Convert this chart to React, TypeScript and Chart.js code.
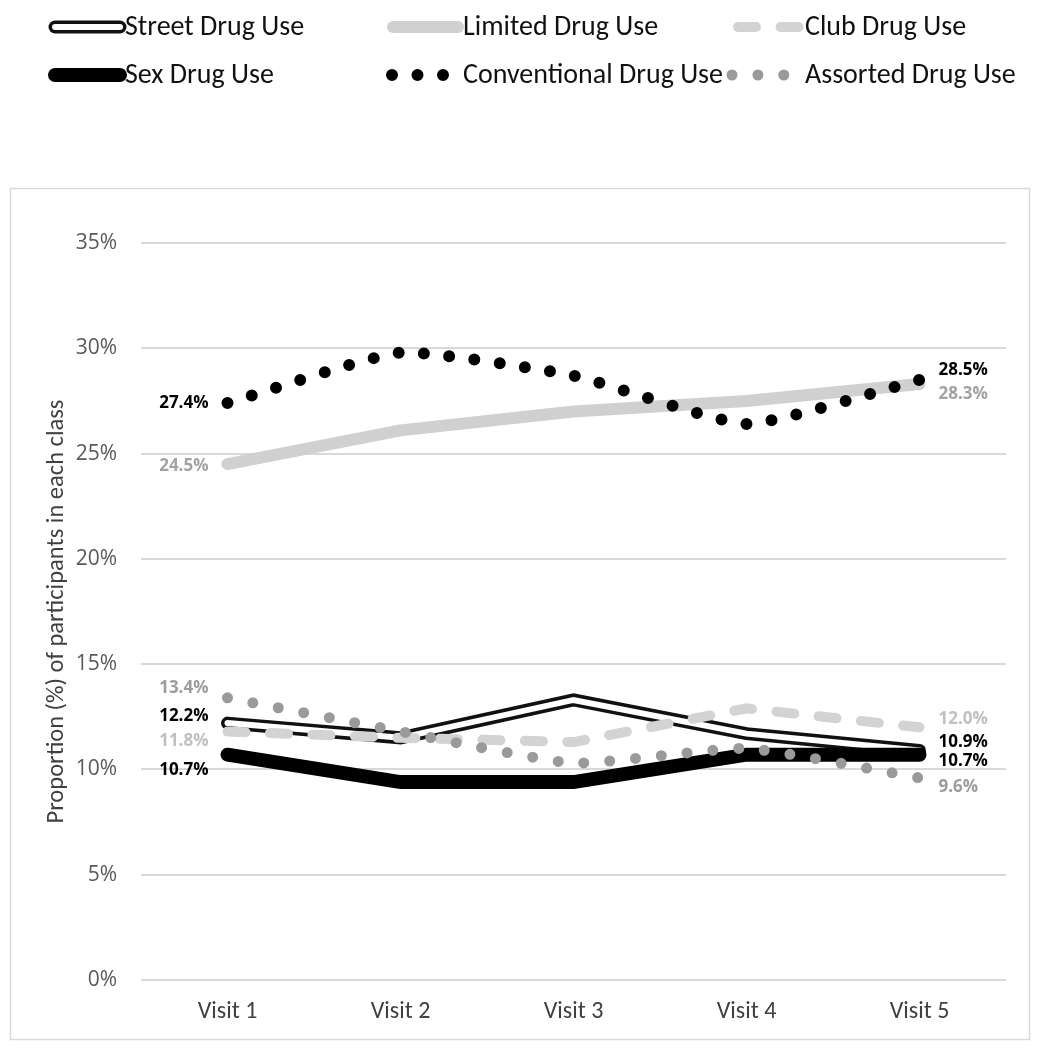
import React, { useEffect, useRef } from 'react';
import { Chart, registerables } from 'chart.js';

Chart.register(...registerables);

// ---------- data ----------
const visits = ['Visit 1', 'Visit 2', 'Visit 3', 'Visit 4', 'Visit 5'];
const streetDrugUse = [12.2, 11.5, 13.3, 11.7, 10.9];
const limitedDrugUse = [24.5, 26.1, 27.0, 27.5, 28.3];
const clubDrugUse = [11.8, 11.5, 11.3, 12.9, 12.0];
const sexDrugUse = [10.7, 9.4, 9.4, 10.7, 10.7];
const conventionalDrugUse = [27.4, 29.8, 28.7, 26.4, 28.5];
const assortedDrugUse = [13.4, 11.8, 10.3, 11.0, 9.6];
const yTickValues = [0, 5, 10, 15, 20, 25, 30, 35];
const yAxisTitle = 'Proportion (%) of participants in each class';

const NARROW = "Carlito, 'Liberation Sans Narrow', 'DejaVu Sans Condensed', 'Roboto Condensed', sans-serif";
const WIDE = "'Open Sans', 'DejaVu Sans', sans-serif";

const fmt = (v: number) => v.toFixed(1) + '%';

// legend grid positions (style only)
const legendColX = [50, 388, 730];
const legendRowY = [27, 75];

function drawSample(ctx: CanvasRenderingContext2D, ds: any, x1: number, x2: number, y: number) {
  ctx.save();
  ctx.strokeStyle = ds.borderColor;
  ctx.lineWidth = ds.borderWidth;
  ctx.lineCap = ds.borderCapStyle || 'butt';
  ctx.setLineDash(ds.borderDash || []);
  ctx.beginPath();
  ctx.moveTo(x1, y);
  ctx.lineTo(x2, y);
  ctx.stroke();
  ctx.restore();
}

const legendPlugin = {
  id: 'customLegend',
  afterDraw(chart: any) {
    const ctx: CanvasRenderingContext2D = chart.ctx;
    const dsets = chart.data.datasets;
    dsets.forEach((ds: any) => {
      if (!ds.legendCell) return;
      const [c, r] = ds.legendCell;
      const x0 = legendColX[c];
      const y = legendRowY[r];
      const [s1, s2] = ds.legendSpan;
      drawSample(ctx, ds, x0 + s1, x0 + s2, y);
      if (ds.innerId) {
        const inner = dsets.find((d: any) => d.id === ds.innerId);
        if (inner) drawSample(ctx, inner, x0 + s1, x0 + s2, y);
      }
      ctx.save();
      ctx.font = `28px ${NARROW}`;
      ctx.fillStyle = '#111111';
      ctx.textAlign = 'left';
      ctx.textBaseline = 'middle';
      ctx.fillText(ds.label, x0 + 75, y + 1);
      ctx.restore();
    });
  },
};

const boxPlugin = {
  id: 'outerBox',
  beforeDraw(chart: any) {
    const ctx: CanvasRenderingContext2D = chart.ctx;
    ctx.save();
    ctx.fillStyle = '#ffffff';
    ctx.fillRect(0, 0, chart.width, chart.height);
    ctx.strokeStyle = '#d9d9d9';
    ctx.lineWidth = 1.5;
    ctx.strokeRect(10.5, 188.5, 1019, 851);
    ctx.restore();
  },
};

// make a dotted line end exactly on a dot: adjust gap so an integer number of gaps fits the path
function bezierLength(p0: any, c1: any, c2: any, p3: any) {
  let len = 0;
  let px = p0.x;
  let py = p0.y;
  const N = 60;
  for (let i = 1; i <= N; i++) {
    const t = i / N;
    const mt = 1 - t;
    const x = mt * mt * mt * p0.x + 3 * mt * mt * t * c1.x + 3 * mt * t * t * c2.x + t * t * t * p3.x;
    const y = mt * mt * mt * p0.y + 3 * mt * mt * t * c1.y + 3 * mt * t * t * c2.y + t * t * t * p3.y;
    len += Math.hypot(x - px, y - py);
    px = x;
    py = y;
  }
  return len;
}

const snapDotsPlugin = {
  id: 'snapDots',
  beforeDatasetDraw(chart: any, args: any) {
    const ds = chart.data.datasets[args.index];
    if (!ds.snapDots) return;
    const line = args.meta.dataset;
    const pts = args.meta.data;
    let L = 0;
    for (let i = 0; i < pts.length - 1; i++) {
      const a = pts[i];
      const b = pts[i + 1];
      const c1 = { x: a.cp2x ?? a.x, y: a.cp2y ?? a.y };
      const c2 = { x: b.cp1x ?? b.x, y: b.cp1y ?? b.y };
      L += bezierLength({ x: a.x, y: a.y }, c1, c2, { x: b.x, y: b.y });
    }
    const gap = ds.borderDash[1];
    const n = Math.max(1, Math.round(L / gap));
    try {
      line.options.borderDash = [0, L / n - 0.02];
    } catch (e) {
      /* ignore */
    }
  },
};

const endLabelPlugin = {
  id: 'endLabels',
  afterDatasetsDraw(chart: any) {
    const ctx: CanvasRenderingContext2D = chart.ctx;
    const xs = chart.scales.x;
    const ys = chart.scales.y;
    chart.data.datasets.forEach((ds: any) => {
      if (!ds.endLabel) return;
      const d = ds.data as number[];
      const n = d.length;
      ctx.save();
      ctx.font = `bold 17px ${WIDE}`;
      ctx.fillStyle = ds.endLabel.color;
      ctx.textBaseline = 'middle';
      ctx.textAlign = 'right';
      ctx.fillText(fmt(d[0]), xs.getPixelForValue(0) - 19, ys.getPixelForValue(d[0]) + ds.endLabel.dy[0]);
      ctx.textAlign = 'left';
      ctx.fillText(fmt(d[n - 1]), xs.getPixelForValue(n - 1) + 19, ys.getPixelForValue(d[n - 1]) + ds.endLabel.dy[1]);
      ctx.restore();
    });
  },
};

export default function App() {
  const ref = useRef<HTMLCanvasElement>(null);

  useEffect(() => {
    document.body.style.margin = '0';
    document.body.style.overflow = 'hidden';
    const canvas = ref.current;
    if (!canvas) return;

    const common = { pointRadius: 0, pointHoverRadius: 0, fill: false };

    const datasets: any[] = [
      {
        ...common,
        label: 'Street Drug Use',
        data: streetDrugUse,
        borderColor: '#111111',
        borderWidth: 13,
        borderCapStyle: 'round',
        borderJoinStyle: 'miter',
        tension: 0,
        order: 60,
        innerId: 'streetInner',
        legendCell: [0, 0],
        legendSpan: [5, 70],
        endLabel: { color: '#000000', dy: [-7, -8] },
      },
      {
        ...common,
        id: 'streetInner',
        label: 'Street inner',
        data: streetDrugUse,
        borderColor: '#ffffff',
        borderWidth: 6,
        borderCapStyle: 'round',
        borderJoinStyle: 'miter',
        tension: 0,
        order: 55,
      },
      {
        ...common,
        label: 'Limited Drug Use',
        data: limitedDrugUse,
        borderColor: '#d0d0d0',
        borderWidth: 12,
        borderCapStyle: 'round',
        borderJoinStyle: 'round',
        tension: 0,
        order: 50,
        legendCell: [1, 0],
        legendSpan: [5, 70],
        endLabel: { color: '#a3a3a3', dy: [2, 10] },
      },
      {
        ...common,
        label: 'Club Drug Use',
        data: clubDrugUse,
        borderColor: '#d3d3d3',
        borderWidth: 10,
        borderCapStyle: 'round',
        borderDash: [18, 24.5],
        tension: 0,
        order: 40,
        legendCell: [2, 0],
        legendSpan: [8, 69],
        endLabel: { color: '#c0c0c0', dy: [10, -8] },
      },
      {
        ...common,
        label: 'Sex Drug Use',
        data: sexDrugUse,
        borderColor: '#000000',
        borderWidth: 14,
        borderCapStyle: 'round',
        borderJoinStyle: 'miter',
        tension: 0,
        order: 30,
        legendCell: [0, 1],
        legendSpan: [5, 70],
        endLabel: { color: '#000000', dy: [15, 6] },
      },
      {
        ...common,
        label: 'Conventional Drug Use',
        data: conventionalDrugUse,
        borderColor: '#000000',
        borderWidth: 12,
        borderCapStyle: 'round',
        borderDash: [0, 25.5],
        tension: 0.15,
        order: 20,
        snapDots: true,
        legendCell: [1, 1],
        legendSpan: [4, 60],
        endLabel: { color: '#000000', dy: [0, -10] },
      },
      {
        ...common,
        label: 'Assorted Drug Use',
        data: assortedDrugUse,
        borderColor: '#9a9a9a',
        borderWidth: 11,
        borderCapStyle: 'round',
        borderDash: [0, 25.9],
        tension: 0.15,
        order: 10,
        legendCell: [2, 1],
        legendSpan: [2, 60],
        endLabel: { color: '#9c9c9c', dy: [-10, 9] },
      },
    ];

    const chart = new Chart(canvas, {
      type: 'line',
      data: { labels: visits, datasets },
      options: {
        responsive: false,
        animation: false,
        devicePixelRatio: 1,
        events: [],
        layout: { padding: { left: 10, right: 38, top: 243, bottom: 10 } },
        plugins: {
          legend: { display: false },
          tooltip: { enabled: false },
        },
        scales: {
          x: {
            type: 'category',
            offset: true,
            grid: { display: false, drawTicks: false },
            border: { display: false },
            ticks: {
              color: '#404040',
              padding: 18,
              font: { family: NARROW, size: 24 },
              maxRotation: 0,
            },
            afterFit: (s: any) => {
              s.height = 60;
            },
          },
          y: {
            min: 0,
            max: 35,
            grid: { color: '#d9d9d9', lineWidth: 2, drawTicks: false },
            border: { display: false },
            afterBuildTicks: (s: any) => {
              s.ticks = yTickValues.map((v) => ({ value: v }));
            },
            ticks: {
              color: '#595959',
              padding: 24,
              font: { family: WIDE, size: 21 },
              callback: (v: any) => v + '%',
            },
            title: {
              display: true,
              text: yAxisTitle,
              color: '#404040',
              font: { family: NARROW, size: 24.5 },
              padding: { top: 32, bottom: 0 },
            },
            afterFit: (s: any) => {
              s.width = 131;
            },
          },
        },
      },
      plugins: [boxPlugin, snapDotsPlugin, endLabelPlugin, legendPlugin],
    } as any);

    return () => chart.destroy();
  }, []);

  return (
    <div style={{ width: 1044, height: 1050, background: '#ffffff' }}>
      <canvas ref={ref} width={1044} height={1050} style={{ display: 'block', width: 1044, height: 1050 }} />
    </div>
  );
}
